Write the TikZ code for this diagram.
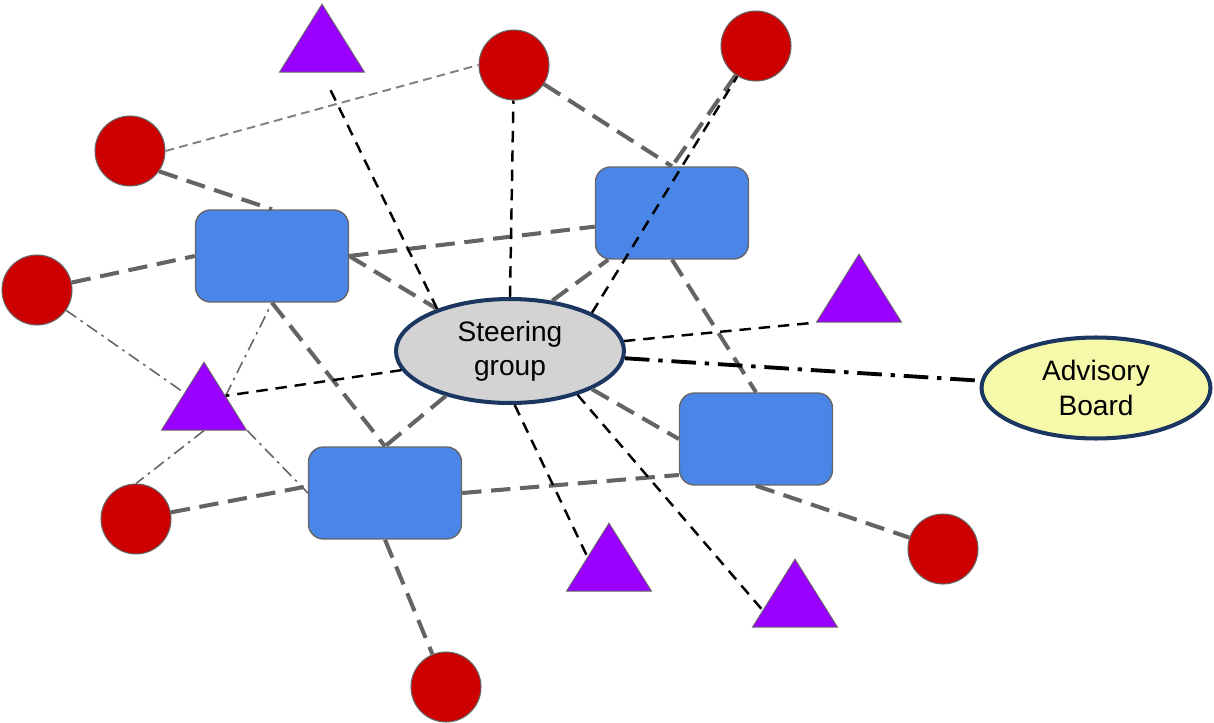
\documentclass[tikz,border=0pt]{standalone}
\usepackage{fontspec}
\setmainfont{Liberation Sans}
\usetikzlibrary{shapes.geometric,calc}
\definecolor{cred}{RGB}{204,0,0}
\definecolor{cblue}{RGB}{74,134,232}
\definecolor{cpurple}{RGB}{153,0,255}
\definecolor{cnavy}{RGB}{28,54,98}
\definecolor{cgrayfill}{RGB}{211,211,211}
\definecolor{cyellow}{RGB}{246,248,170}
\definecolor{cedge}{RGB}{102,102,102}
\definecolor{clink}{RGB}{100,100,100}
\begin{document}
\begin{tikzpicture}[x=0.02cm,y=-0.02cm,
  circ/.style={circle, minimum size=1.4cm, inner sep=0pt, fill=cred, draw=cedge, line width=0.6pt},
  rbox/.style={rectangle, rounded corners=0.3cm, minimum width=3.06cm, minimum height=1.84cm, inner sep=0pt, fill=cblue, draw=cedge, line width=0.8pt},
  tri/.style={isosceles triangle, isosceles triangle stretches, shape border rotate=90, minimum width=1.7cm, minimum height=1.36cm, inner sep=0pt, fill=cpurple, draw=cedge, line width=0.5pt, anchor=apex},
  oval/.style={ellipse, draw=cnavy, line width=2.3pt, inner sep=0pt, align=center, font=\fontsize{16}{19.5}\selectfont},
  heavy/.style={draw=clink, line width=2.3pt, dash pattern=on 11pt off 5.5pt},
  blk/.style={draw=black, line width=1.4pt, dash pattern=on 6.5pt off 4.5pt},
  thin/.style={draw=gray, line width=1.1pt, dash pattern=on 5pt off 3pt},
  dd/.style={draw=clink, line width=0.9pt, dash pattern=on 7pt off 3pt on 1.5pt off 3pt},
  bdd/.style={draw=black, line width=2.2pt, dash pattern=on 14pt off 5pt on 2.5pt off 5pt}
]
\useasboundingbox (0,0) rectangle (1214,723);

% circles
\node[circ] (C1) at (514,65) {};
\node[circ] (C2) at (756,46) {};
\node[circ] (C3) at (130,151) {};
\node[circ] (C4) at (37,290) {};
\node[circ] (C5) at (136,519) {};
\node[circ] (C6) at (943,549) {};
\node[circ] (C7) at (446,687) {};

% rectangles
\node[rbox] (R1) at (272,256) {};
\node[rbox] (R2) at (672,213) {};
\node[rbox] (R3) at (385,493) {};
\node[rbox] (R4) at (756,439) {};

% triangles
\node[tri] (T1) at (322,3) {};
\node[tri] (T2) at (859,253) {};
\node[tri] (T3) at (204,361) {};
\node[tri] (T4) at (609,522) {};
\node[tri] (T5) at (795,558) {};

% ellipses
\node[oval, fill=cgrayfill, minimum width=4.56cm, minimum height=2.08cm] (SG) at (510,351) {Steering\\group};
\node[oval, fill=cyellow, minimum width=4.58cm, minimum height=2.02cm] (AB) at (1096,388) {Advisory\\Board};

% thin gray dashed
\draw[thin] (C3.east) -- (C1.west);

% heavy gray dashed
\draw[heavy] (C1) -- (R2.north);
\draw[heavy] (C2) -- (R2.north);
\draw[heavy] (C3.-35) -- (R1.north);
\draw[heavy] (C4) -- (R1.west);
\draw[heavy] (R1.east) -- (R2.190);
\draw[heavy] (R1.east) -- (SG.150);
\draw[heavy] (R1.south) -- (R3.north);
\draw[heavy] (SG.215) -- (R3.north);
\draw[heavy] (SG.50) -- (R2);
\draw[heavy] (R2.south) -- (R4.north);
\draw[heavy] (SG.-25) -- (R4.west);
\draw[heavy] (R3.east) -- (R4.205);
\draw[heavy] (C5) -- (R3.175);
\draw[heavy] (R3.south) -- (C7);
\draw[heavy] (R4.south) -- (C6);

% gray dash-dot
\draw[dd] (C4) -- (T3);
\draw[dd] (T3.right side) -- (R1.south);
\draw[dd] (T3.lower side) -- (C5.north);
\draw[dd] (T3.right corner) -- (R3.west);

% black dashed from steering group
\draw[blk, shorten >=0.24cm] (SG.150) -- (T1.lower side);
\draw[blk] (SG.north) -- (C1);
\draw[blk] (SG.25) -- (C2);
\draw[blk] (SG.5) -- (T2.left corner);
\draw[blk] (SG.190) -- (T3.right side);
\draw[blk] (SG.-85) -- (T4.left side);
\draw[blk] (SG.-33) -- ($(T5.left side)!0.5!(T5.left corner)$);

% black dash-dot to advisory board
\draw[bdd] (SG) -- (AB);
\end{tikzpicture}
\end{document}
